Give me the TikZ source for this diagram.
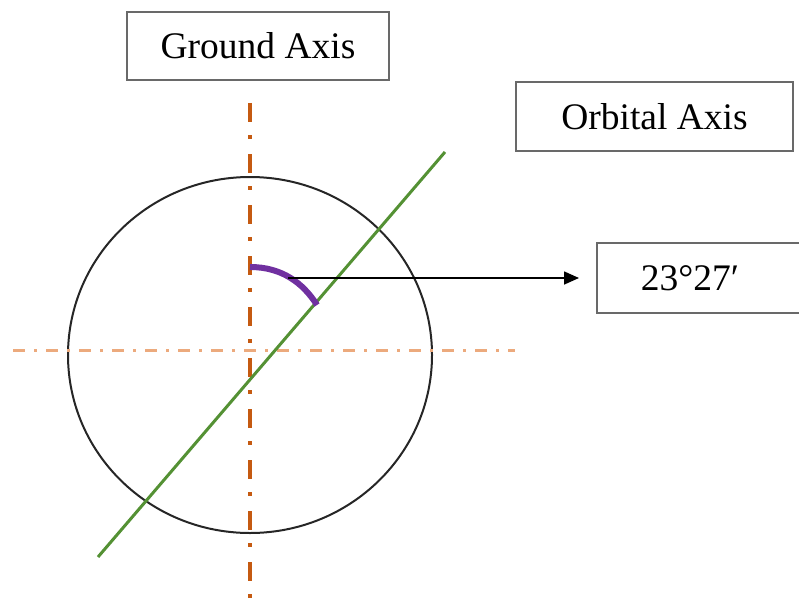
\documentclass[tikz,border=0pt]{standalone}
\usepackage{fontspec}
\setmainfont{Liberation Serif}
\usetikzlibrary{arrows.meta}
\definecolor{axdark}{RGB}{197,90,17}
\definecolor{axlight}{RGB}{236,170,125}
\definecolor{orbgreen}{RGB}{84,145,52}
\definecolor{arcpurple}{RGB}{112,48,160}
\definecolor{boxgray}{RGB}{105,105,105}
\begin{document}
\begin{tikzpicture}[x=1pt,y=-1pt,
  labelbox/.style={draw=boxgray,line width=2.5pt,inner sep=0pt,font=\fontsize{37.5}{42}\selectfont},
  groundline/.style={draw=axdark,line width=3.5pt,dash pattern=on 19pt off 13pt on 4pt off 15pt},
  horizline/.style={draw=axlight,line width=3pt,dash pattern=on 12pt off 9pt on 2.5pt off 9.5pt},
  orbitline/.style={draw=orbgreen,line width=3pt},
  anglearc/.style={draw=arcpurple,line width=6pt},
  pointer/.style={draw=black,line width=1.6pt,-{Triangle[length=15pt,width=13pt]}}]
\useasboundingbox (0,0) rectangle (799,599);
\clip (0,0) rectangle (799,599);
% circle
\draw[line width=2pt,draw=black!85] (250,355) ellipse [x radius=182, y radius=178];
% axes
\coordinate (gtop) at (250,103);
\coordinate (gbot) at (250,599);
\draw[groundline] (gtop) -- (gbot);
\coordinate (hl) at (13,350);
\coordinate (hr) at (515,350);
\draw[horizline] (hl) -- (hr);
\coordinate (olow) at (98,557);
\coordinate (ohigh) at (445,152);
\draw[orbitline] (olow) -- (ohigh);
% angle arc
\coordinate (arcA) at (250,267);
\coordinate (arcB) at (317,305);
\draw[anglearc] (arcA) .. controls (282,267) and (303,283) .. (arcB);
% boxes
\node[labelbox,minimum width=262pt,minimum height=68pt] (ground) at (258,46) {Ground Axis};
\node[labelbox,minimum width=277pt,minimum height=69pt] (orbital) at (654.5,116.5) {Orbital Axis};
\node[labelbox,minimum width=212pt,minimum height=70pt] (angle) at (703,278) {\hspace*{-26pt}23°27′};
% pointer
\coordinate (pstart) at (288,278);
\draw[pointer] (pstart) -- (angle.west -| 579,0);
\end{tikzpicture}
\end{document}
